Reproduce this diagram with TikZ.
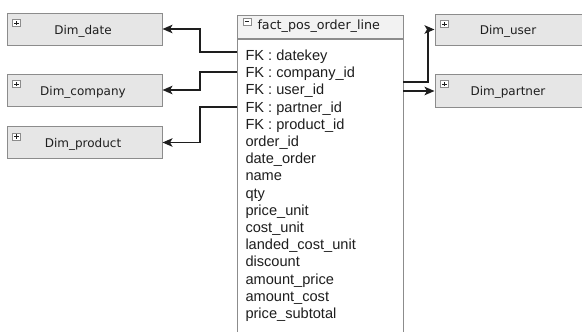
\documentclass[tikz,border=0pt]{standalone}
\usepackage{fontspec}
\newfontfamily\fieldfont{Liberation Sans}
\newfontfamily\dimfont{DejaVu Sans}
\usetikzlibrary{arrows.meta}

\definecolor{boxgray}{HTML}{8C8C8C}
\definecolor{dimfill}{HTML}{E6E6E6}
\definecolor{headfill}{HTML}{F2F2F2}
\definecolor{inkdark}{HTML}{1E1E1E}

\tikzset{
  dimbox/.style={draw=boxgray, fill=dimfill, minimum width=155pt, minimum height=32pt},
  dimlabel/.style={font=\dimfont\fontsize{12}{14}\selectfont, text=inkdark},
  field/.style={anchor=base west, font=\fieldfont\fontsize{14.6}{16}\selectfont, text=inkdark},
  toggle/.style={draw=boxgray, fill=white, line width=0.8pt, minimum width=8pt, minimum height=7pt},
  toggleplus/.style={toggle, path picture={
      \draw[line width=0.9pt, inkdark] ([xshift=-2.2pt]path picture bounding box.center) -- ([xshift=2.2pt]path picture bounding box.center)
        ([yshift=-2.2pt]path picture bounding box.center) -- ([yshift=2.2pt]path picture bounding box.center);}},
  toggleminus/.style={toggle, path picture={
      \draw[line width=0.9pt, inkdark] ([xshift=-2.2pt]path picture bounding box.center) -- ([xshift=2.2pt]path picture bounding box.center);}},
  link/.style={draw=inkdark, line width=1.3pt, -{Stealth[length=10pt, width=8.5pt, inset=2.5pt]}}
}

\begin{document}
\begin{tikzpicture}[x=1pt, y=-1pt, line width=1pt, every node/.style={inner sep=0pt}]
    \clip (0,0) rectangle (582,332);

    \node (fact_head) at (320,26.5) [draw=boxgray, fill=headfill, minimum width=166pt, minimum height=23pt] {};
    \node (fact) [draw=boxgray, fill=white, minimum width=166pt, minimum height=310pt, anchor=north] at (fact_head.south) {};
    \node (i_fact) [toggleminus] at (247,21.5) {};
    \node (t_fact) [anchor=base west, font=\dimfont\fontsize{12.7}{14}\selectfont, text=inkdark] at (257,29.5) {fact\_pos\_order\_line};

    \node (f_datekey) [field] at (245,60.5) {FK : datekey};
    \node (f_company) [field] at (245,77.7) {FK : company\_id};
    \node (f_user) [field] at (245,94.9) {FK : user\_id};
    \node (f_partner) [field] at (245,112.1) {FK : partner\_id};
    \node (f_product) [field] at (245,129.3) {FK : product\_id};
    \node (f_order) [field] at (245,146.5) {order\_id};
    \node (f_dateorder) [field] at (245,163.7) {date\_order};
    \node (f_name) [field] at (245,180.9) {name};
    \node (f_qty) [field] at (245,198.1) {qty};
    \node (f_priceunit) [field] at (245,215.3) {price\_unit};
    \node (f_costunit) [field] at (245,232.5) {cost\_unit};
    \node (f_landed) [field] at (245,249.7) {landed\_cost\_unit};
    \node (f_discount) [field] at (245,266.9) {discount};
    \node (f_amountprice) [field] at (245,284.1) {amount\_price};
    \node (f_amountcost) [field] at (245,301.3) {amount\_cost};
    \node (f_subtotal) [field] at (245,318.5) {price\_subtotal};

    \node (dim_date) [dimbox] at (84.5,29) {};
    \node (dim_company) [dimbox] at (84.5,90) {};
    \node (dim_product) [dimbox] at (84.5,142.5) {};
    \node (dim_user) [dimbox, minimum width=150pt, minimum height=31pt] at (510,29.5) {};
    \node (dim_partner) [dimbox, minimum width=150pt, minimum height=33pt] at (510,90.5) {};

    \node (t_date) [dimlabel] at ([shift={(-1.5pt,-2pt)}]dim_date.center) {Dim\_date};
    \node (t_company) [dimlabel] at ([shift={(-1.5pt,-2pt)}]dim_company.center) {Dim\_company};
    \node (t_product) [dimlabel] at ([shift={(-1.5pt,-2pt)}]dim_product.center) {Dim\_product};
    \node (t_user) [dimlabel] at ([shift={(-2pt,-2pt)}]dim_user.center) {Dim\_user};
    \node (t_partner) [dimlabel] at ([shift={(-2pt,-2pt)}]dim_partner.center) {Dim\_partner};

    \node (i_date) [toggleplus] at ([shift={(10pt,-10.5pt)}]dim_date.north west) {};
    \node (i_company) [toggleplus] at ([shift={(10pt,-10.5pt)}]dim_company.north west) {};
    \node (i_product) [toggleplus] at ([shift={(10pt,-10.5pt)}]dim_product.north west) {};
    \node (i_user) [toggleplus] at ([shift={(10pt,-10.5pt)}]dim_user.north west) {};
    \node (i_partner) [toggleplus] at ([shift={(10pt,-10.5pt)}]dim_partner.north west) {};

    \coordinate (c_date) at (237,52);
    \coordinate (c_company) at (237,72);
    \coordinate (c_product) at (237,107);
    \coordinate (c_user) at (403,82);
    \coordinate (c_partner) at (403,91);

    \draw [link] (c_date) -- ++(-37,0) |- (dim_date);
    \draw [link] (c_company) -- ++(-37,0) |- (dim_company);
    \draw [link] (c_product) -- ++(-37,0) |- (dim_product);
    \draw [link] (c_user) -- ++(25,0) |- (dim_user);
    \draw [link] (c_partner) -- (c_partner -| dim_partner.west);
\end{tikzpicture}
\end{document}
